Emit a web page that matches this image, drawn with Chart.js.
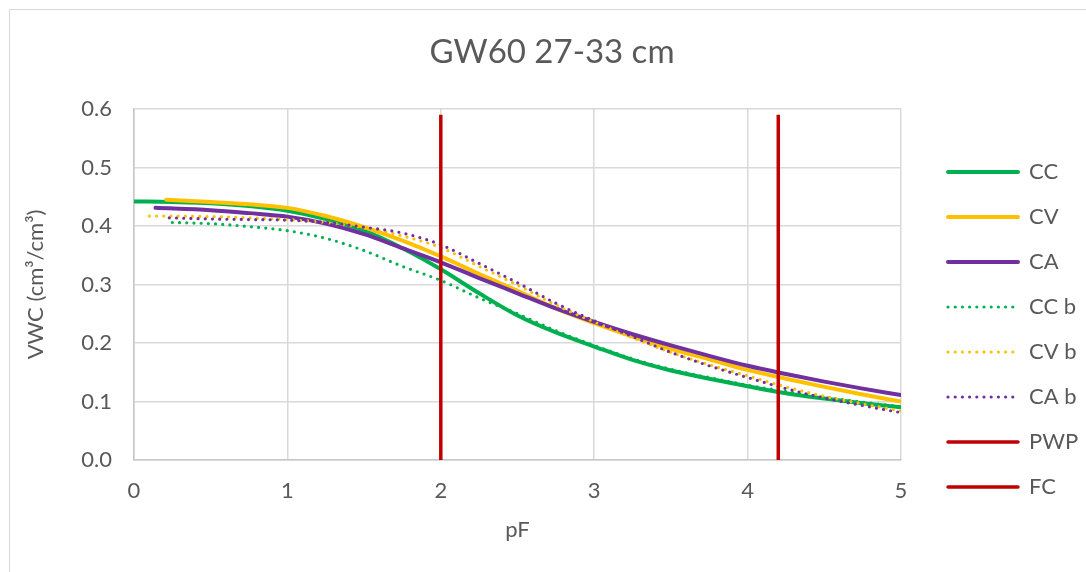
<!DOCTYPE html>
<html><head><meta charset="utf-8">
<script src="https://cdn.jsdelivr.net/npm/chart.js@4.4.1/dist/chart.umd.min.js"></script>
<style>
html,body{margin:0;padding:0;background:#fff;}
#wrap{position:relative;width:1086px;height:572px;overflow:hidden;}
#frame{position:absolute;left:9px;top:9px;width:1200px;height:700px;border-left:1.5px solid #d9d9d9;border-top:1.5px solid #d9d9d9;pointer-events:none;}
canvas{position:absolute;left:0;top:0;}
</style></head>
<body><div id="wrap"><canvas id="c" width="1086" height="572"></canvas><div id="frame"></div></div>
<script>
const chartTitle = 'GW60 27-33 cm';
const xTitle = 'pF';
const yTitle = 'VWC (cm³/cm³)';
const xTicks = [0, 1, 2, 3, 4, 5];
const yTicks = [0.0, 0.1, 0.2, 0.3, 0.4, 0.5, 0.6];

const ccPF  = [0, 0.25, 0.5, 0.75, 1, 1.25, 1.5, 1.75, 2, 2.25, 2.5, 2.75, 3, 3.25, 3.5, 3.75, 4, 4.25, 4.5, 4.75, 5];
const ccVWC = [0.442, 0.441, 0.439, 0.434, 0.426, 0.412, 0.392, 0.362, 0.326, 0.285, 0.247, 0.218, 0.194, 0.171, 0.153, 0.139, 0.126, 0.114, 0.105, 0.097, 0.090];

const cvPF  = [0.21, 0.5, 0.75, 1, 1.25, 1.5, 1.75, 2, 2.25, 2.5, 2.75, 3, 3.25, 3.5, 3.75, 4, 4.25, 4.5, 4.75, 5];
const cvVWC = [0.445, 0.441, 0.437, 0.431, 0.417, 0.398, 0.375, 0.348, 0.318, 0.289, 0.259, 0.234, 0.211, 0.190, 0.172, 0.154, 0.139, 0.125, 0.112, 0.100];

const caPF  = [0.14, 0.5, 0.75, 1, 1.25, 1.5, 1.75, 2, 2.25, 2.5, 2.75, 3, 3.25, 3.5, 3.75, 4, 4.25, 4.5, 4.75, 5];
const caVWC = [0.431, 0.427, 0.422, 0.416, 0.404, 0.386, 0.362, 0.338, 0.311, 0.285, 0.259, 0.236, 0.215, 0.196, 0.178, 0.161, 0.147, 0.134, 0.122, 0.111];

const ccbPF  = [0.25, 0.5, 0.75, 1, 1.25, 1.5, 1.75, 2, 2.25, 2.5, 2.75, 3, 3.25, 3.5, 3.75, 4, 4.25, 4.5, 4.75, 5];
const ccbVWC = [0.406, 0.404, 0.399, 0.392, 0.379, 0.358, 0.331, 0.307, 0.277, 0.250, 0.221, 0.196, 0.173, 0.155, 0.141, 0.128, 0.117, 0.107, 0.099, 0.091];

const cvbPF  = [0.1, 0.25, 0.5, 0.75, 1, 1.25, 1.5, 1.75, 2, 2.25, 2.5, 2.75, 3, 3.25, 3.5, 3.75, 4, 4.25, 4.5, 4.75, 5];
const cvbVWC = [0.417, 0.417, 0.416, 0.414, 0.411, 0.406, 0.397, 0.383, 0.363, 0.331, 0.299, 0.265, 0.236, 0.209, 0.184, 0.163, 0.144, 0.125, 0.109, 0.096, 0.084];

const cabPF  = [0.23, 0.5, 0.75, 1, 1.25, 1.5, 1.75, 2, 2.25, 2.5, 2.75, 3, 3.25, 3.5, 3.75, 4, 4.25, 4.5, 4.75, 5];
const cabVWC = [0.414, 0.412, 0.411, 0.410, 0.406, 0.398, 0.388, 0.368, 0.336, 0.303, 0.268, 0.238, 0.211, 0.184, 0.161, 0.141, 0.122, 0.106, 0.093, 0.081];

const pwpPF  = [2, 2];
const pwpVWC = [0, 0.59];
const fcPF   = [4.2, 4.2];
const fcVWC  = [0, 0.59];

const GREEN = '#00B050', YELLOW = '#FFC000', PURPLE = '#7030A0', RED = '#C00000';
const TXT = '#595959';
const FONT = 'Lato, "Noto Sans", sans-serif';

const pts = (xs, ys) => xs.map((x, i) => ({x: x, y: ys[i]}));
const solid = (label, xs, ys, color, order) => ({
  label, data: pts(xs, ys), borderColor: color, backgroundColor: color,
  borderWidth: 4, pointRadius: 0, fill: false, cubicInterpolationMode: 'monotone',
  borderCapStyle: 'round', order
});
const dotted = (label, xs, ys, color, order) => ({
  label, data: pts(xs, ys), borderColor: color, backgroundColor: color,
  borderWidth: 3.2, borderDash: [0, 7.2], borderCapStyle: 'round', pointRadius: 0, fill: false,
  cubicInterpolationMode: 'monotone', order
});
const vline = (label, xs, ys, order) => ({
  label, data: pts(xs, ys), borderColor: RED, backgroundColor: RED,
  borderWidth: 3.5, pointRadius: 0, fill: false, tension: 0, borderCapStyle: 'butt', order
});

const datasets = [
  solid('CC', ccPF, ccVWC, GREEN, 8),
  solid('CV', cvPF, cvVWC, YELLOW, 7),
  solid('CA', caPF, caVWC, PURPLE, 6),
  dotted('CC b', ccbPF, ccbVWC, GREEN, 5),
  dotted('CV b', cvbPF, cvbVWC, YELLOW, 4),
  dotted('CA b', cabPF, cabVWC, PURPLE, 3),
  vline('PWP', pwpPF, pwpVWC, 2),
  vline('FC', fcPF, fcVWC, 1)
];

new Chart(document.getElementById('c'), {
  type: 'line',
  data: { datasets },
  options: {
    responsive: false,
    animation: false,
    devicePixelRatio: 1,
    layout: { padding: { left: 18, right: 0, top: 0, bottom: 0 } },
    plugins: {
      tooltip: { enabled: false },
      title: {
        display: true, text: chartTitle, color: TXT,
        font: { family: FONT, size: 33, weight: 'normal' },
        padding: { top: 33, bottom: 36.4 }
      },
      legend: {
        position: 'right',
        maxWidth: 161,
        title: { display: true, text: '', font: { size: 12 }, padding: { top: 72.6, bottom: 0 } },
        labels: {
          color: TXT,
          font: { family: FONT, size: 22 },
          usePointStyle: true,
          pointStyleWidth: 70,
          padding: 23,
          generateLabels: (chart) => chart.data.datasets.map((ds, i) => ({
            text: ds.label,
            fillStyle: ds.borderColor,
            strokeStyle: ds.borderColor,
            lineWidth: ds.borderWidth,
            lineDash: ds.borderDash || [],
            lineCap: 'round',
            pointStyle: 'line',
            hidden: false,
            fontColor: TXT,
            datasetIndex: i
          }))
        }
      }
    },
    scales: {
      x: {
        type: 'linear', min: 0, max: 5,
        afterBuildTicks: (s) => { s.ticks = xTicks.map(v => ({value: v})); },
        ticks: { color: TXT, font: { family: FONT, size: 22 }, padding: 18, callback: (v) => String(v) },
        grid: { color: '#d9d9d9', lineWidth: 1.5, drawTicks: false },
        border: { color: '#c8c8c8', width: 1.5 },
        title: { display: true, text: xTitle, color: TXT, font: { family: FONT, size: 22 }, padding: { top: 0, bottom: 29 } },
        afterFit: (s) => { s.height = 112; }
      },
      y: {
        type: 'linear', min: 0, max: 0.6,
        afterBuildTicks: (s) => { s.ticks = yTicks.map(v => ({value: v})); },
        ticks: { color: TXT, font: { family: FONT, size: 22 }, padding: 22, callback: (v) => Number(v).toFixed(1) },
        grid: { color: '#d9d9d9', lineWidth: 1.5, drawTicks: false },
        border: { color: '#c8c8c8', width: 1.5 },
        title: { display: true, text: yTitle, color: TXT, font: { family: FONT, size: 22 }, padding: { top: 5, bottom: 0 } },
        afterFit: (s) => { s.width = 116; }
      },
      spacer: {
        type: 'linear', position: 'right', display: true,
        grid: { display: false, drawTicks: false }, border: { display: false },
        ticks: { display: false },
        afterFit: (s) => { s.width = 24; }
      }
    }
  }
});
</script>
</body></html>
